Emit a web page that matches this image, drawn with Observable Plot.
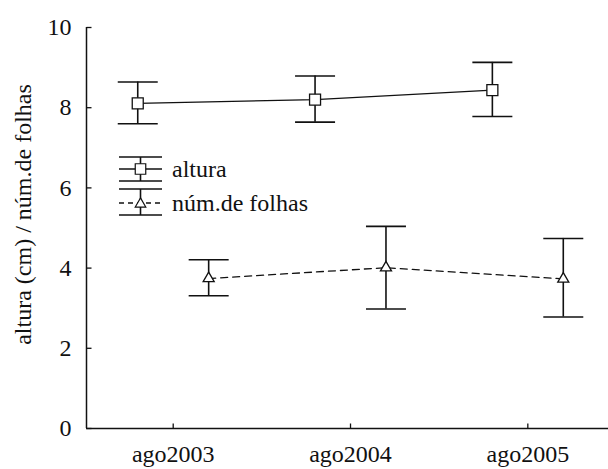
<!DOCTYPE html>
<html><head><meta charset="utf-8">
<script src="https://cdn.jsdelivr.net/npm/d3@7"></script>
<script src="https://cdn.jsdelivr.net/npm/@observablehq/plot@0.6"></script>
<style>
html,body{margin:0;background:#fff;overflow:hidden}
svg text{font-family:"Liberation Serif",serif !important}
</style>
</head><body><div id="chart"></div>
<script>
// ---- data ----
const years = ["ago2003", "ago2004", "ago2005"];
const seriesNames = ["altura", "núm.de folhas"];
const alturaMean = [8.11, 8.20, 8.44];
const alturaLo = [7.60, 7.64, 7.78];
const alturaHi = [8.64, 8.79, 9.13];
const folhasMean = [3.74, 4.01, 3.73];
const folhasLo = [3.31, 2.98, 2.78];
const folhasHi = [4.21, 5.04, 4.74];
const yTicks = [0, 2, 4, 6, 8, 10];
const yTitle = "altura (cm) / núm.de folhas";

// ---- layout ----
const ink = "#111";
const FF = "'Liberation Serif', serif";
const fs = 24;
const xDomain = [-0.489, 2.455];
const dodge = 0.2;

const rows = (name, mean, lo, hi, off) =>
  years.map((yr, i) => ({series: name, x: i + off, mean: mean[i], lo: lo[i], hi: hi[i]}));
const alt = rows(seriesNames[0], alturaMean, alturaLo, alturaHi, -dodge);
const fol = rows(seriesNames[1], folhasMean, folhasLo, folhasHi, +dodge);
const all = alt.concat(fol);

const hLine = {draw(ctx, size) { const w = Math.sqrt(size / Math.PI); ctx.moveTo(-w, 0); ctx.lineTo(w, 0); }};
const tickRight = {draw(ctx, size) { const w = Math.sqrt(size / Math.PI); ctx.moveTo(0, 0); ctx.lineTo(w, 0); }};
const tickUp = {draw(ctx, size) { const w = Math.sqrt(size / Math.PI); ctx.moveTo(0, 0); ctx.lineTo(0, -w); }};

function legend(index, scales, values, dims) {
  const g = d3.create("svg:g").attr("fill", "none").attr("stroke", ink).attr("stroke-width", 1.6);
  const x0 = dims.marginLeft + 33, x1 = dims.marginLeft + 76, xc = (x0 + x1) / 2;
  const entries = [
    {name: seriesNames[0], top: 157, mid: 169, bot: 181, sym: d3.symbolSquare, size: 110, dash: null},
    {name: seriesNames[1], top: 189, mid: 203, bot: 215, sym: d3.symbolTriangle, size: 48, dash: "5,4"}
  ];
  for (const e of entries) {
    g.append("line").attr("x1", x0).attr("x2", x1).attr("y1", e.top).attr("y2", e.top);
    g.append("line").attr("x1", x0).attr("x2", x1).attr("y1", e.bot).attr("y2", e.bot);
    g.append("line").attr("x1", xc).attr("x2", xc).attr("y1", e.top).attr("y2", e.bot);
    g.append("line").attr("x1", x0).attr("x2", x1).attr("y1", e.mid).attr("y2", e.mid)
      .attr("stroke-width", 1.3).attr("stroke-dasharray", e.dash);
    g.append("path").attr("d", d3.symbol(e.sym, e.size)())
      .attr("transform", `translate(${xc},${e.mid + (e.sym === d3.symbolTriangle ? 1 : 0)})`)
      .attr("fill", "white").attr("stroke-width", 1.2);
    g.append("text").attr("x", x1 + 10).attr("y", e.mid).attr("dy", "0.32em")
      .attr("text-anchor", "start").attr("fill", ink).attr("stroke", "none")
      .attr("font-size", fs).text(e.name);
  }
  return g.node();
}

const txt = {fill: ink, fontSize: fs, fontFamily: FF};
const chart = Plot.plot({
  width: 608, height: 469,
  marginLeft: 86, marginRight: 0, marginTop: 27, marginBottom: 41,
  style: {background: "white", color: ink, fontFamily: FF},
  x: {type: "linear", domain: xDomain, axis: null},
  y: {domain: [0, 10], axis: null},
  marks: [
    // axes
    Plot.ruleY([0], {stroke: ink, strokeWidth: 1.5}),
    Plot.ruleX([xDomain[0]], {y1: 0, y2: 10, stroke: ink, strokeWidth: 1.5}),
    Plot.dot(yTicks, {y: d => d, frameAnchor: "left", symbol: tickRight, r: 5, stroke: ink, strokeWidth: 1.3}),
    Plot.dot(years, {x: (d, i) => i, frameAnchor: "bottom", symbol: tickUp, r: 5, stroke: ink, strokeWidth: 1.3}),
    Plot.text(yTicks, {y: d => d, frameAnchor: "left", text: d => String(d), textAnchor: "end", dx: -15, ...txt}),
    Plot.text(years, {x: (d, i) => i, frameAnchor: "bottom", text: d => d, textAnchor: "middle", lineAnchor: "top", dy: 16, ...txt}),
    Plot.text([yTitle], {frameAnchor: "left", rotate: -90, textAnchor: "middle", dx: -63, dy: -13.5, ...txt}),
    // connecting lines
    Plot.line(alt, {x: "x", y: "mean", stroke: ink, strokeWidth: 1.3}),
    Plot.line(fol, {x: "x", y: "mean", stroke: ink, strokeWidth: 1.3, strokeDasharray: "7,5"}),
    // error bars
    Plot.ruleX(all, {x: "x", y1: "lo", y2: "hi", stroke: ink, strokeWidth: 1.6}),
    Plot.dot(all, {x: "x", y: "lo", symbol: hLine, r: 20, stroke: ink, strokeWidth: 1.6}),
    Plot.dot(all, {x: "x", y: "hi", symbol: hLine, r: 20, stroke: ink, strokeWidth: 1.6}),
    // markers
    Plot.dot(alt, {x: "x", y: "mean", symbol: "square", r: 6.2, fill: "white", stroke: ink, strokeWidth: 1.3}),
    Plot.dot(fol, {x: "x", y: "mean", symbol: "triangle", r: 4.1, fill: "white", stroke: ink, strokeWidth: 1.3}),
    legend
  ]
});
d3.select(chart).style("font-family", FF, "important")
  .selectAll("text").attr("font-family", "Liberation Serif").style("font-family", FF, "important");
document.getElementById("chart").append(chart);
</script>
</body></html>
